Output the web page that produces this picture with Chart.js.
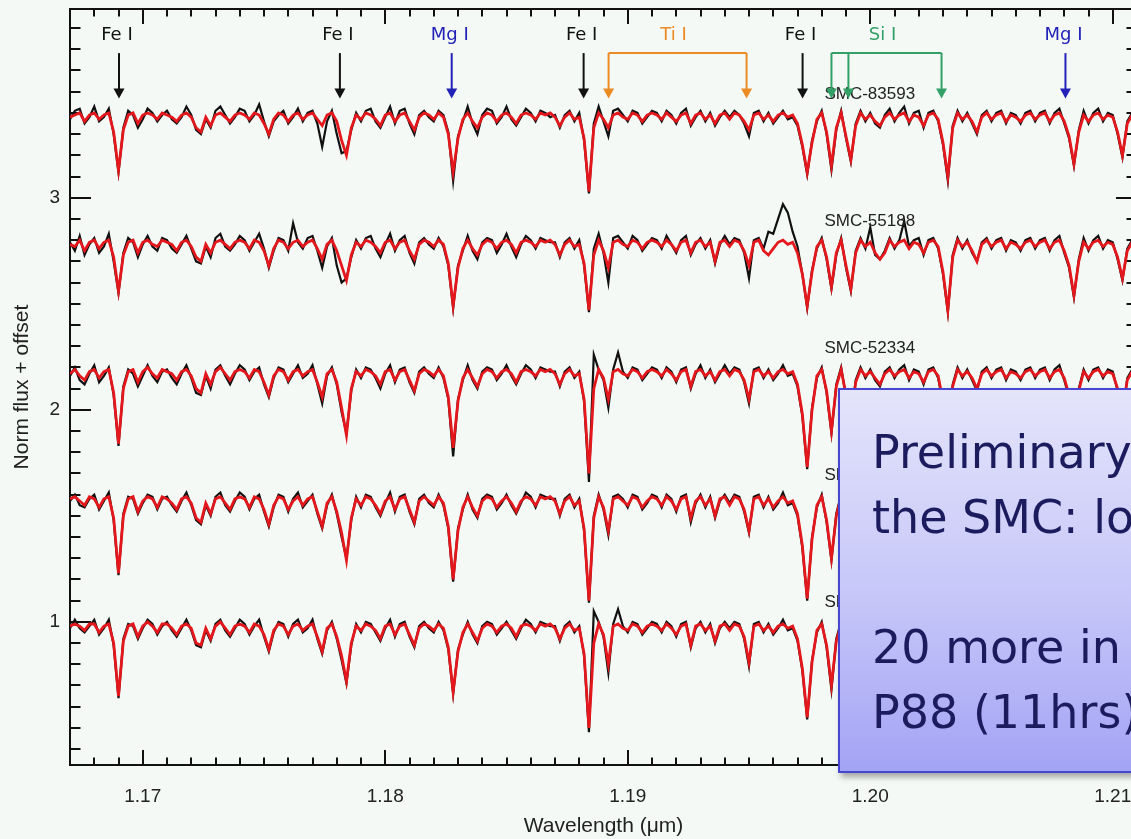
<!DOCTYPE html>
<html>
<head>
<meta charset="utf-8">
<title>SMC spectra</title>
<script src="https://cdn.jsdelivr.net/npm/chart.js@4/dist/chart.umd.min.js"></script>
<style>
  html, body { margin: 0; padding: 0; background: #f4f9f5; overflow: hidden; width: 1131px; height: 839px; }
  #wrap { position: relative; width: 1145px; height: 839px; }
  #specChart { position: absolute; left: 0; top: 0; }
  .note {
    position: absolute; left: 838px; top: 388px; width: 330px; height: 385px;
    box-sizing: border-box; padding: 30px 0 0 32px;
    border: 2px solid #4646d2;
    background: linear-gradient(to bottom, #e4e4fb 0%, #c6c6f9 55%, #a3a3f5 100%);
    box-shadow: 3px 4px 6px rgba(60, 60, 60, 0.45);
    font-family: "DejaVu Sans", sans-serif; font-size: 46px; line-height: 65px;
    color: #1b1b5e; white-space: nowrap; overflow: hidden;
  }
</style>
</head>
<body>
<div id="wrap">
  <canvas id="specChart" width="1145" height="839"></canvas>
  <div class="note">Preliminary<br>the SMC: low<br><br>20 more in<br>P88 (11hrs)</div>
</div>
<script>
// wavelength grid (micron)
const wavelength = [
  1.1670,1.1672,1.1674,1.1676,1.1678,1.1680,1.1682,1.1684,1.1686,1.1688,
  1.1690,1.1692,1.1694,1.1696,1.1698,1.1700,1.1702,1.1704,1.1706,1.1708,
  1.1710,1.1712,1.1714,1.1716,1.1718,1.1720,1.1722,1.1724,1.1726,1.1728,
  1.1730,1.1732,1.1734,1.1736,1.1738,1.1740,1.1742,1.1744,1.1746,1.1748,
  1.1750,1.1752,1.1754,1.1756,1.1758,1.1760,1.1762,1.1764,1.1766,1.1768,
  1.1770,1.1772,1.1774,1.1776,1.1778,1.1780,1.1782,1.1784,1.1786,1.1788,
  1.1790,1.1792,1.1794,1.1796,1.1798,1.1800,1.1802,1.1804,1.1806,1.1808,
  1.1810,1.1812,1.1814,1.1816,1.1818,1.1820,1.1822,1.1824,1.1826,1.1828,
  1.1830,1.1832,1.1834,1.1836,1.1838,1.1840,1.1842,1.1844,1.1846,1.1848,
  1.1850,1.1852,1.1854,1.1856,1.1858,1.1860,1.1862,1.1864,1.1866,1.1868,
  1.1870,1.1872,1.1874,1.1876,1.1878,1.1880,1.1882,1.1884,1.1886,1.1888,
  1.1890,1.1892,1.1894,1.1896,1.1898,1.1900,1.1902,1.1904,1.1906,1.1908,
  1.1910,1.1912,1.1914,1.1916,1.1918,1.1920,1.1922,1.1924,1.1926,1.1928,
  1.1930,1.1932,1.1934,1.1936,1.1938,1.1940,1.1942,1.1944,1.1946,1.1948,
  1.1950,1.1952,1.1954,1.1956,1.1958,1.1960,1.1962,1.1964,1.1966,1.1968,
  1.1970,1.1972,1.1974,1.1976,1.1978,1.1980,1.1982,1.1984,1.1986,1.1988,
  1.1990,1.1992,1.1994,1.1996,1.1998,1.2000,1.2002,1.2004,1.2006,1.2008,
  1.2010,1.2012,1.2014,1.2016,1.2018,1.2020,1.2022,1.2024,1.2026,1.2028,
  1.2030,1.2032,1.2034,1.2036,1.2038,1.2040,1.2042,1.2044,1.2046,1.2048,
  1.2050,1.2052,1.2054,1.2056,1.2058,1.2060,1.2062,1.2064,1.2066,1.2068,
  1.2070,1.2072,1.2074,1.2076,1.2078,1.2080,1.2082,1.2084,1.2086,1.2088,
  1.2090,1.2092,1.2094,1.2096,1.2098,1.2100,1.2102,1.2104,1.2106,1.2108,
  1.2110
];

// normalised flux x 100, observed (black) and synthetic fit (red)
const obs83593 = [
  97,101,102,95,98,103,96,98,102,90,72,93,101,99,93,97,102,100,96,99,
  101,97,95,98,103,99,92,90,97,93,101,103,99,95,98,102,101,96,99,104,
  96,89,96,99,101,95,98,102,96,100,101,95,84,96,101,90,81,82,92,100,
  96,101,102,96,93,98,103,95,101,102,95,90,99,101,98,96,101,99,91,68,
  89,96,103,95,90,99,102,101,95,98,103,97,94,98,102,100,96,101,100,98,
  99,93,99,101,96,100,87,62,95,103,96,89,101,102,99,96,101,100,95,98,
  101,100,96,101,99,95,100,102,94,98,101,96,100,94,98,101,98,101,99,95,
  89,100,101,96,100,95,98,101,97,98,94,84,71,87,96,101,90,73,92,101,
  88,77,95,101,96,100,95,93,99,102,96,100,103,95,100,101,93,100,101,96,
  85,68,94,101,96,100,95,90,99,101,96,100,101,95,100,99,95,100,101,96,
  100,101,95,100,102,95,88,75,92,101,95,100,102,96,100,99,90,79,96,100,
  95
];
const fit83593 = [
  98,99,100,96,99,100,97,99,100,91,73,92,99,100,95,99,100,99,97,100,
  99,98,96,99,100,98,93,91,98,94,99,100,98,96,99,100,99,97,100,99,
  95,90,97,100,99,96,99,100,97,99,100,97,94,99,100,96,87,80,93,99,
  97,100,99,97,94,99,100,96,99,100,96,92,98,100,99,97,100,98,90,72,
  88,97,100,96,93,98,100,99,96,99,100,98,95,99,100,99,97,100,99,100,
  98,94,98,100,97,98,88,63,93,100,97,93,99,100,98,97,100,99,96,99,
  100,99,97,100,98,96,99,100,95,99,100,97,99,95,99,100,97,100,99,96,
  92,99,100,97,99,96,99,100,98,99,95,85,72,86,97,100,91,75,93,100,
  89,78,94,100,97,99,96,94,98,100,97,99,100,96,99,98,94,99,100,97,
  86,70,93,100,97,99,96,91,98,100,97,99,100,96,99,98,96,99,100,97,
  99,100,96,99,100,96,89,76,91,99,96,99,100,97,99,98,91,80,95,99,
  96
];
const obs55188 = [
  99,95,102,93,98,101,94,97,103,90,75,94,101,99,92,98,102,97,95,101,
  100,96,94,98,102,96,90,89,97,92,101,103,97,95,98,102,100,95,99,103,
  96,87,95,101,100,95,108,99,96,101,102,95,87,97,101,88,80,82,92,100,
  96,101,102,96,92,98,103,95,100,102,94,89,99,101,98,96,101,97,88,68,
  88,95,102,95,91,99,101,100,94,98,103,97,92,98,102,100,96,101,100,99,
  99,92,99,101,96,100,88,66,96,103,94,80,101,102,99,96,102,100,95,98,
  101,100,96,102,98,94,100,102,93,98,101,96,100,89,98,102,98,101,100,94,
  82,100,101,96,104,103,110,117,113,104,97,84,68,86,96,101,91,77,93,101,
  87,76,95,101,96,106,93,91,95,101,96,100,109,97,100,101,93,100,101,96,
  84,66,93,101,96,100,94,90,99,101,96,100,101,95,100,99,95,100,101,96,
  100,101,95,100,102,94,87,73,91,101,95,100,102,96,100,99,91,81,96,100,
  95
];
const fit55188 = [
  98,97,100,95,99,100,96,99,100,92,76,93,99,100,94,99,100,98,97,100,
  99,98,95,99,100,97,92,90,98,94,99,100,98,96,99,100,99,96,100,99,
  95,88,96,100,99,96,99,100,97,99,100,96,91,98,100,95,88,81,93,99,
  97,100,99,97,94,99,100,96,99,100,95,91,98,100,99,97,100,98,89,69,
  87,96,100,96,93,98,100,99,96,99,100,98,94,99,100,99,97,100,99,100,
  98,93,98,100,97,98,89,67,93,100,95,87,99,100,98,97,100,99,96,99,
  100,99,97,100,98,95,99,100,94,99,100,97,99,90,99,100,97,100,99,95,
  88,99,100,95,93,96,99,100,98,99,94,84,69,85,97,100,92,78,94,100,
  88,77,94,100,97,99,94,91,94,100,97,99,100,96,99,98,94,99,100,97,
  85,67,92,100,97,99,95,90,98,100,97,99,100,96,99,98,96,99,100,97,
  99,100,96,99,100,95,88,74,90,99,96,99,100,97,99,98,92,82,95,99,
  96
];
const obs52334 = [
  96,100,94,92,97,101,93,96,100,87,63,91,99,97,91,96,101,96,93,98,
  99,95,92,97,101,95,88,87,96,90,99,101,96,92,97,101,99,94,98,100,
  92,86,95,100,99,93,97,101,95,97,101,92,83,96,100,92,79,69,89,99,
  95,100,99,95,90,97,101,93,99,100,93,88,98,100,97,95,100,95,85,58,
  85,94,101,94,90,98,100,99,94,97,101,96,92,97,101,99,95,100,99,98,
  98,91,98,100,95,98,84,46,106,99,94,81,99,107,98,95,100,99,94,97,
  100,99,95,100,98,93,99,100,90,97,101,95,99,93,97,101,97,100,99,93,
  83,99,100,95,99,94,97,101,96,97,91,77,52,81,95,100,88,69,92,100,
  86,74,94,100,95,99,94,91,98,100,95,99,101,94,99,98,92,99,100,95,
  83,65,92,100,95,99,94,89,98,100,95,99,100,94,99,98,94,99,100,95,
  99,100,94,99,101,94,86,71,90,99,94,99,100,95,99,98,89,78,95,99,
  94
];
const fit52334 = [
  97,99,96,94,98,99,95,98,99,88,64,90,98,99,93,98,100,97,95,99,
  98,97,94,98,99,96,90,88,97,92,98,100,97,94,98,99,98,95,99,98,
  93,87,96,99,98,94,98,99,96,98,99,93,86,97,99,93,81,68,90,98,
  96,99,98,96,92,98,99,94,98,99,94,89,97,99,98,96,99,96,86,62,
  84,95,99,95,91,97,99,98,95,98,99,97,93,98,99,98,96,99,98,99,
  97,92,97,99,96,97,85,50,90,99,95,85,98,99,97,96,99,98,95,98,
  99,98,96,99,97,94,98,99,91,98,99,96,98,94,98,99,96,99,98,94,
  85,98,99,96,98,95,98,99,97,98,92,78,53,80,96,99,89,70,91,99,
  87,75,93,99,96,98,95,92,97,99,96,98,99,95,98,97,93,98,99,96,
  84,66,91,99,96,98,95,90,97,99,96,98,99,95,98,97,95,98,99,96,
  98,99,95,98,99,95,87,72,89,98,95,98,99,96,98,97,90,79,94,98,
  95
];
const obs4 = [
  97,100,95,94,98,100,93,97,101,88,62,91,99,98,91,96,100,99,93,98,
  99,95,92,97,101,95,88,86,95,90,99,101,95,92,97,101,99,93,98,100,
  92,85,94,100,99,92,98,101,94,97,100,91,84,95,100,91,80,70,88,99,
  94,100,99,94,90,96,101,92,99,100,92,86,98,100,96,94,100,95,84,59,
  84,93,100,93,89,98,100,99,93,96,100,95,91,96,101,99,94,100,99,98,
  98,90,98,100,94,98,83,49,90,100,93,81,99,100,98,94,100,99,93,96,
  100,99,94,100,98,92,99,100,87,96,100,94,99,89,97,100,96,100,99,92,
  82,99,100,94,99,93,96,101,95,96,90,75,50,80,94,100,87,69,91,100,
  86,74,94,100,95,99,93,90,98,100,95,99,100,94,99,98,92,99,100,95,
  83,65,92,100,95,99,94,89,98,100,95,99,100,94,99,98,94,99,100,95,
  99,100,94,99,100,94,86,71,90,99,94,99,100,95,99,98,89,78,95,99,
  94
];
const fit4 = [
  98,99,97,95,99,98,94,98,99,89,63,90,98,99,92,97,99,98,94,99,
  98,96,93,98,99,96,89,87,96,91,98,99,96,93,98,99,98,94,99,98,
  93,86,95,99,98,93,97,99,95,98,99,92,85,96,99,92,82,69,89,98,
  95,99,98,95,91,97,99,93,98,99,93,87,97,99,97,95,99,96,85,60,
  83,94,99,94,90,97,99,98,94,97,99,96,92,97,99,98,95,99,98,99,
  97,91,97,99,95,97,84,50,89,99,94,83,98,99,97,95,99,98,94,97,
  99,98,95,99,97,93,98,99,89,97,99,95,98,90,98,99,95,99,98,93,
  83,98,99,95,98,94,97,99,96,97,91,76,51,79,95,99,88,70,90,99,
  87,75,93,99,96,98,94,91,97,99,96,98,99,95,98,97,93,98,99,96,
  84,66,91,99,96,98,95,90,97,99,96,98,99,95,98,97,95,98,99,96,
  98,99,95,98,99,95,87,72,89,98,95,98,99,96,98,97,90,79,94,98,
  95
];
const obs5 = [
  97,101,97,95,98,101,94,97,101,89,64,92,99,98,92,97,101,99,94,98,
  100,96,93,97,101,96,89,88,96,91,99,101,96,93,97,101,99,94,98,101,
  93,86,95,100,99,93,99,101,95,97,101,92,85,96,100,92,82,71,89,99,
  95,100,99,95,91,97,101,93,99,100,93,88,98,100,97,95,100,96,87,66,
  87,94,100,94,90,98,100,99,94,97,100,96,92,97,101,99,95,100,99,98,
  98,91,98,100,95,98,84,48,105,100,93,76,99,106,98,95,100,99,94,97,
  100,99,95,100,98,93,99,100,88,97,100,95,99,90,97,100,97,100,99,92,
  79,99,100,95,99,94,97,101,96,97,91,77,54,82,95,100,88,68,92,100,
  86,74,94,100,95,99,94,91,98,100,95,99,100,94,99,98,92,99,100,95,
  83,65,92,100,95,99,94,89,98,100,95,99,100,94,99,98,94,99,100,95,
  99,100,94,99,101,94,86,71,90,99,94,99,100,95,99,98,89,78,95,99,
  94
];
const fit5 = [
  98,99,98,96,99,99,95,98,99,90,65,91,98,99,93,98,100,98,95,99,
  99,97,94,98,99,97,90,89,97,92,98,100,97,94,98,99,98,95,99,98,
  94,87,96,99,98,94,98,99,96,98,99,93,86,97,99,93,84,72,90,98,
  96,99,98,96,92,98,99,94,98,99,94,89,97,99,98,96,99,97,88,67,
  86,95,99,95,91,97,99,98,95,98,99,97,93,98,99,98,96,99,98,99,
  97,92,97,99,96,97,85,50,90,99,94,80,98,99,97,96,99,98,95,98,
  99,98,96,99,97,94,98,99,89,98,99,96,98,91,98,99,96,99,98,93,
  81,98,99,96,98,95,98,99,97,98,92,78,55,81,96,99,89,70,91,99,
  87,75,93,99,96,98,95,92,97,99,96,98,99,95,98,97,93,98,99,96,
  84,66,91,99,96,98,95,90,97,99,96,98,99,95,98,97,95,98,99,96,
  98,99,95,98,99,95,87,72,89,98,95,98,99,96,98,97,90,79,94,98,
  95
];

const starNames = ["SMC-83593", "SMC-55188", "SMC-52334", "SMC-20187", "SMC-11406"];
const offsets = [2.4, 1.8, 1.2, 0.6, 0.0];
const observed = [obs83593, obs55188, obs52334, obs4, obs5];
const fitted = [fit83593, fit55188, fit52334, fit4, fit5];

const xTickValues = [1.17, 1.18, 1.19, 1.20, 1.21];
const yTickValues = [1, 2, 3];

// line identifications along the top
const markLabels = ["Fe I", "Fe I", "Mg I", "Fe I", "Ti I", "Fe I", "Si I", "Mg I"];
const markColors = ["#111", "#111", "#2222b8", "#111", "#ec8a24", "#111", "#33a068", "#2222b8"];
const markWaves = [
  [1.16902], [1.17813], [1.18274], [1.18818],
  [1.18921, 1.19490], [1.19721], [1.19840, 1.19910, 1.20294], [1.20805]
];

function toPoints(flux, off) {
  return flux.map((f, i) => ({ x: wavelength[i], y: f / 100 + off }));
}

const datasets = [];
fitted.forEach((f, s) => datasets.push({
  label: starNames[s] + " fit", data: toPoints(f, offsets[s]),
  borderColor: "#e3171c", borderWidth: 2.8
}));
observed.forEach((f, s) => datasets.push({
  label: starNames[s], data: toPoints(f, offsets[s]),
  borderColor: "#111111", borderWidth: 2.2
}));

const frame = {
  id: "frame",
  beforeDatasetsDraw(chart) {
    const { ctx, chartArea: a, scales: { x, y } } = chart;
    ctx.save();
    ctx.strokeStyle = "#111";
    ctx.lineWidth = 2;
    ctx.strokeRect(a.left, a.top, a.right - a.left, a.bottom - a.top);
    ctx.beginPath();
    // inward ticks on all four sides
    for (let k = 1167; k <= 1211; k++) {
      const px = Math.round(x.getPixelForValue(k / 1000));
      const len = k % 10 === 0 ? 15 : 7.5;
      ctx.moveTo(px, a.bottom); ctx.lineTo(px, a.bottom - len);
      ctx.moveTo(px, a.top); ctx.lineTo(px, a.top + len);
    }
    for (let k = 4; k <= 38; k++) {
      const py = Math.round(y.getPixelForValue(k / 10));
      const len = k % 10 === 0 ? 21 : 10.5;
      ctx.moveTo(a.left, py); ctx.lineTo(a.left + len, py);
      ctx.moveTo(a.right, py); ctx.lineTo(a.right - len, py);
    }
    ctx.stroke();
    ctx.restore();
  },
  afterDatasetsDraw(chart) {
    const { ctx, scales: { x, y } } = chart;
    ctx.save();
    // star names
    ctx.font = "17px 'Liberation Sans', Arial, sans-serif";
    ctx.fillStyle = "#222";
    ctx.textAlign = "left";
    ctx.textBaseline = "middle";
    starNames.forEach((n, s) => {
      ctx.fillText(n, x.getPixelForValue(1.19811), y.getPixelForValue(offsets[s] + 1.09));
    });
    // identification arrows
    const yText = y.getPixelForValue(3.767);
    const yTop = y.getPixelForValue(3.682);
    const yBase = y.getPixelForValue(3.515);
    const yTip = y.getPixelForValue(3.468);
    ctx.font = "18px 'DejaVu Sans', sans-serif";
    ctx.textAlign = "center";
    ctx.lineWidth = 2;
    markLabels.forEach((lab, g) => {
      const waves = markWaves[g];
      const px = waves.map(w => x.getPixelForValue(w));
      ctx.strokeStyle = markColors[g];
      ctx.fillStyle = markColors[g];
      const mid = (px[0] + px[px.length - 1]) / 2;
      ctx.fillText(lab, mid - (px.length === 1 ? 2 : 4), yText);
      ctx.beginPath();
      if (px.length > 1) {
        ctx.moveTo(px[0], yTop);
        ctx.lineTo(px[px.length - 1], yTop);
      }
      px.forEach(p => { ctx.moveTo(p, yTop); ctx.lineTo(p, yBase + 2); });
      ctx.stroke();
      px.forEach(p => {
        ctx.beginPath();
        ctx.moveTo(p - 5.5, yBase);
        ctx.lineTo(p + 5.5, yBase);
        ctx.lineTo(p, yTip);
        ctx.closePath();
        ctx.fill();
      });
    });
    ctx.restore();
  }
};

Chart.defaults.font.family = "'Liberation Sans', Arial, sans-serif";
Chart.defaults.color = "#222";

new Chart("specChart", {
  type: "scatter",
  data: { datasets: datasets },
  options: {
    responsive: false,
    animation: false,
    showLine: true,
    elements: { point: { radius: 0 }, line: { tension: 0 } },
    layout: { padding: { top: 9, right: 8, left: 0, bottom: 0 } },
    plugins: { legend: { display: false }, tooltip: { enabled: false } },
    scales: {
      x: {
        type: "linear", min: 1.167, max: 1.211,
        afterBuildTicks: s => { s.ticks = xTickValues.map(v => ({ value: v })); },
        afterFit: s => { s.height = 74; s.paddingLeft = 0; s.paddingRight = 0; },
        grid: { display: false, drawTicks: false },
        border: { display: false },
        ticks: { padding: 20, font: { size: 19 }, maxRotation: 0, autoSkip: false,
                 callback: v => v.toFixed(2) },
        title: { display: true, text: "Wavelength (μm)", font: { size: 21 },
                 padding: { top: 0, bottom: 0 } }
      },
      y: {
        type: "linear", min: 0.325, max: 3.89,
        afterBuildTicks: s => { s.ticks = yTickValues.map(v => ({ value: v })); },
        afterFit: s => { s.width = 70; s.paddingTop = 0; s.paddingBottom = 0; },
        grid: { display: false, drawTicks: false },
        border: { display: false },
        ticks: { padding: 10, font: { size: 19 }, callback: v => String(v) },
        title: { display: true, text: "Norm flux + offset", font: { size: 21 },
                 padding: { top: 10, bottom: 0 } }
      }
    }
  },
  plugins: [frame]
});
</script>
</body>
</html>
